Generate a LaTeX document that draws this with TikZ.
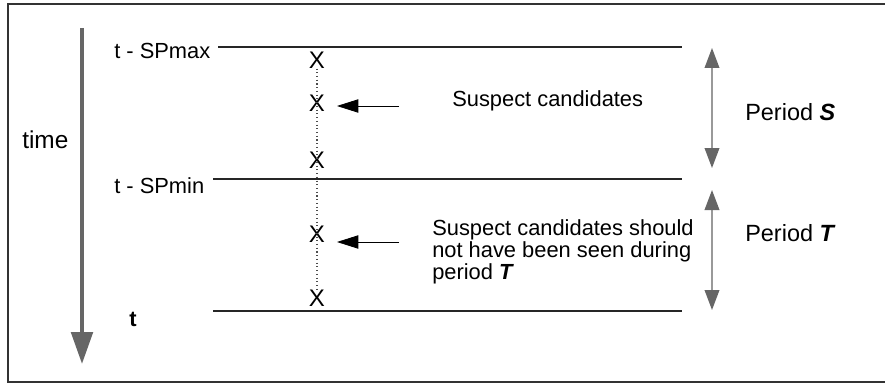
\documentclass[tikz,border=0pt]{standalone}
\usepackage{fontspec}
\setmainfont{Liberation Sans}
\usetikzlibrary{arrows.meta}
\definecolor{darkgrey}{HTML}{666666}
\definecolor{midgrey}{HTML}{999999}
\begin{document}
\begin{tikzpicture}[x=0.75pt,y=-0.75pt,
  txt/.style={inner sep=0pt,font=\fontsize{16.4}{16.6}\selectfont},
  bigtxt/.style={inner sep=0pt,font=\fontsize{17.6}{18}\selectfont},
  obs/.style={inner sep=0pt,font=\fontsize{18}{18}\selectfont},
  timeline/.style={line width=0.9pt,black!85},
  pointer/.style={line width=0.6pt,-{Triangle[length=16pt,width=10pt]}},
  span/.style={line width=1.2pt,midgrey,{Triangle[length=15pt,width=11pt,fill=darkgrey,color=darkgrey]}-{Triangle[length=15pt,width=11pt,fill=darkgrey,color=darkgrey]}}]
\useasboundingbox (0,0) rectangle (885,385);
% outer frame (its right side lies past the page edge)
\draw[line width=1pt,black!80] (8,4) rectangle (895,382);

% time axis
\coordinate (tTop) at (82,28);
\coordinate (tBot) at (82,364);
\draw[line width=3.2pt,darkgrey,-{Triangle[length=24pt,width=16pt]}] (tTop) -- (tBot);
\node[bigtxt,anchor=west,font=\fontsize{18.3}{18}\selectfont] (time) at (22,140) {time};

% time marks and their lines
\node[txt,anchor=west] (lmax) at (114,51) {t - SPmax};
\node[txt,anchor=west] (lmin) at (114,186) {t - SPmin};
\node[txt,anchor=west,font=\fontsize{16.4}{16}\selectfont\bfseries] (lt) at (129,319) {t};
\coordinate (a1) at (218,47);  \coordinate (b1) at (682,47);
\coordinate (a2) at (213,179); \coordinate (b2) at (682,179);
\coordinate (a3) at (213,311); \coordinate (b3) at (682,311);
\draw[timeline] (a1) -- (b1);
\draw[timeline] (a2) -- (b2);
\draw[timeline] (a3) -- (b3);

% observations
\node[obs] (x1) at (317,60) {X};
\node[obs] (x2) at (317,103) {X};
\node[obs] (x3) at (317,160) {X};
\node[obs] (x4) at (317,234) {X};
\node[obs] (x5) at (317,298) {X};
\draw[dotted,line width=0.8pt,black!70] (x1.south) -- (x5.north);

% annotations
\node[txt,anchor=west] (s1) at (452,101) {Suspect candidates};
\node[txt,anchor=north west,align=left] (s2) at (432,219)
  {Suspect candidates should\\not have been seen during\\period \textbf{\textit{T}}};
\coordinate (p1) at (399,106); \coordinate (q1) at (337,106);
\coordinate (p2) at (399,242); \coordinate (q2) at (337,242);
\draw[pointer] (p1) -- (q1);
\draw[pointer] (p2) -- (q2);

% periods
\coordinate (sa) at (712,48);  \coordinate (sb) at (712,168);
\coordinate (ta) at (712,190); \coordinate (tb) at (712,310);
\draw[span] (sa) -- (sb);
\draw[span] (ta) -- (tb);
\node[bigtxt,anchor=west] (pS) at (745,112) {Period \textbf{\textit{S}}};
\node[bigtxt,anchor=west] (pT) at (745,233) {Period \textbf{\textit{T}}};
\end{tikzpicture}
\end{document}
